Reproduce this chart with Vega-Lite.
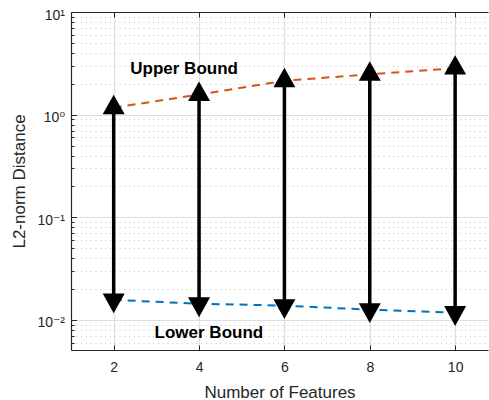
{
  "$schema": "https://vega.github.io/schema/vega-lite/v6.json",
  "width": 417,
  "height": 338,
  "autosize": {"type": "none"},
  "padding": {"left": 71, "top": 12, "right": 1, "bottom": 50},
  "background": "white",
  "config": {
    "view": {"stroke": null},
    "font": "Liberation Sans",
    "axis": {
      "labelFont": "Liberation Sans, DejaVu Sans",
      "titleFont": "Liberation Sans",
      "labelColor": "#262626",
      "titleColor": "#262626",
      "domainColor": "#262626",
      "tickColor": "#262626",
      "labelFontSize": 14,
      "titleFontSize": 17,
      "titleFontWeight": "normal",
      "domainWidth": 1.2,
      "tickWidth": 1
    }
  },
  "datasets": {
    "bounds": [
      {"features": 2, "upper": 1.17, "lower": 0.0157},
      {"features": 4, "upper": 1.57, "lower": 0.0144},
      {"features": 6, "upper": 2.14, "lower": 0.0138},
      {"features": 8, "upper": 2.47, "lower": 0.0126},
      {"features": 10, "upper": 2.84, "lower": 0.0118}
    ],
    "labels": [
      {"label": "Upper Bound", "features": 3.65, "value": 2.49},
      {"label": "Lower Bound", "features": 4.23, "value": 0.00668}
    ]
  },
  "resolve": {"axis": {"x": "independent", "y": "independent"}},
  "layer": [
    {
      "data": {"name": "bounds"},
      "mark": {"type": "line", "color": "#D95319", "strokeWidth": 2, "strokeDash": [8, 6]},
      "encoding": {
        "x": {
          "field": "features", "type": "quantitative",
          "scale": {"domain": [1, 10.77], "nice": false, "zero": false},
          "axis": {
            "orient": "bottom",
            "values": [2, 4, 6, 8, 10],
            "title": "Number of Features",
            "grid": true,
            "gridColor": "#dedede",
            "gridWidth": 1.2,
            "tickSize": -5,
            "labelPadding": 15,
            "titlePadding": 10
          }
        },
        "y": {
          "field": "upper", "type": "quantitative",
          "scale": {"type": "log", "domain": [0.0051, 10], "nice": false},
          "axis": {
            "orient": "left",
            "title": "L2-norm Distance",
            "values": [0.006, 0.007, 0.008, 0.009, 0.01, 0.02, 0.03, 0.04, 0.05, 0.06, 0.07, 0.08, 0.09, 0.1, 0.2, 0.3, 0.4, 0.5, 0.6, 0.7, 0.8, 0.9, 1, 2, 3, 4, 5, 6, 7, 8, 9, 10],
            "labelExpr": "datum.value == 10 ? '10¹' : datum.value == 1 ? '10⁰' : abs(datum.value - 0.1) < 1e-9 ? '10⁻¹' : abs(datum.value - 0.01) < 1e-9 ? '10⁻²' : ''",
            "labelOverlap": false,
            "labelFlush": false,
            "labelOffset": 3,
            "grid": true,
            "gridColor": {"condition": {"test": "abs(log(datum.value)/LN10 - round(log(datum.value)/LN10)) < 0.001", "value": "#dedede"}, "value": "#c6c6c6"},
            "gridDash": {"condition": {"test": "abs(log(datum.value)/LN10 - round(log(datum.value)/LN10)) < 0.001", "value": []}, "value": [1, 3.8]},
            "gridWidth": {"condition": {"test": "abs(log(datum.value)/LN10 - round(log(datum.value)/LN10)) < 0.001", "value": 1.2}, "value": 1},
            "tickSize": {"condition": {"test": "abs(log(datum.value)/LN10 - round(log(datum.value)/LN10)) < 0.001", "value": -5.5}, "value": -3},
            "labelPadding": 12,
            "titlePadding": 8
          }
        }
      }
    },
    {
      "data": {"name": "bounds"},
      "mark": {"type": "line", "color": "#0072BD", "strokeWidth": 2, "strokeDash": [8, 6]},
      "encoding": {
        "x": {
          "field": "features", "type": "quantitative",
          "axis": {
            "orient": "top",
            "values": [2, 4, 6, 8, 10],
            "title": null,
            "labels": false,
            "grid": false,
            "tickSize": -5
          }
        },
        "y": {"field": "lower", "type": "quantitative", "axis": null}
      }
    },
    {
      "data": {"name": "bounds"},
      "mark": {"type": "rule", "color": "black", "strokeWidth": 3.5},
      "encoding": {
        "x": {"field": "features", "type": "quantitative", "axis": null},
        "y": {"field": "lower", "type": "quantitative", "axis": null},
        "y2": {"field": "upper"}
      }
    },
    {
      "data": {"name": "bounds"},
      "mark": {"type": "point", "shape": "M-1,0.59L1,0.59L0,-1.18Z", "size": 484, "filled": true, "color": "black", "opacity": 1, "strokeWidth": 0},
      "encoding": {
        "x": {"field": "features", "type": "quantitative", "axis": null},
        "y": {"field": "upper", "type": "quantitative", "axis": null}
      }
    },
    {
      "data": {"name": "bounds"},
      "mark": {"type": "point", "shape": "M-1,-0.59L1,-0.59L0,1.22Z", "size": 484, "filled": true, "color": "black", "opacity": 1, "strokeWidth": 0},
      "encoding": {
        "x": {"field": "features", "type": "quantitative", "axis": null},
        "y": {"field": "lower", "type": "quantitative", "axis": null}
      }
    },
    {
      "data": {"name": "labels"},
      "mark": {"type": "text", "font": "Liberation Sans", "fontWeight": "bold", "fontSize": 17, "color": "black", "align": "center", "baseline": "alphabetic"},
      "encoding": {
        "x": {"field": "features", "type": "quantitative", "axis": null},
        "y": {"field": "value", "type": "quantitative", "axis": null},
        "text": {"field": "label"}
      }
    }
  ]
}
